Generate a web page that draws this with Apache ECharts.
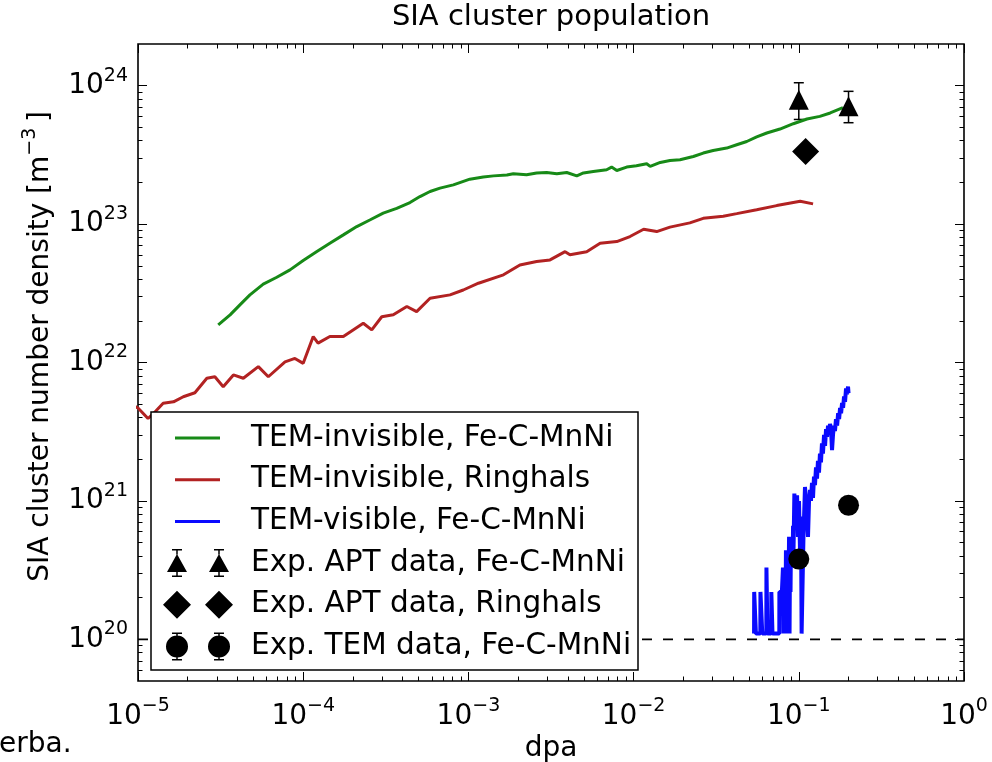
<!DOCTYPE html>
<html>
<head>
<meta charset="utf-8">
<script src="https://cdn.jsdelivr.net/npm/echarts@6/dist/echarts.min.js"></script>
<style>
  html, body { margin: 0; padding: 0; background: #fff; }
  #chart { width: 992px; height: 762px; }
</style>
</head>
<body>
<div id="chart"></div>
<script>
const FONT = 'DejaVu Sans';

// Axis ranges (dpa and number density, both on log scales)
const dpaRange = [1e-5, 1];
const densityRange = [5e19, 2e24];
const xTickExponents = [-5, -4, -3, -2, -1, 0];
const yTickExponents = [20, 21, 22, 23, 24];

// TEM-invisible clusters, Fe-C-MnNi (simulation)
const greenDpa = [3.06e-5, 3.61e-5, 4.14e-5, 4.76e-5, 5.73e-5, 6.92e-5, 8.32e-5, 1.00e-4, 1.21e-4, 1.45e-4,
  1.75e-4, 2.11e-4, 2.53e-4, 3.05e-4, 3.68e-4, 4.43e-4, 5.09e-4, 5.86e-4, 6.73e-4, 8.11e-4,
  1.02e-3, 1.23e-3, 1.42e-3, 1.71e-3, 1.87e-3, 2.25e-3, 2.59e-3, 2.98e-3, 3.43e-3, 3.94e-3,
  4.53e-3, 4.97e-3, 5.70e-3, 6.87e-3, 7.36e-3, 7.91e-3, 9.08e-3, 1.04e-2, 1.20e-2, 1.26e-2,
  1.45e-2, 1.66e-2, 1.91e-2, 2.30e-2, 2.64e-2, 3.03e-2, 3.66e-2, 4.21e-2, 4.84e-2, 5.56e-2,
  6.40e-2, 7.69e-2, 9.27e-2, 1.12e-1, 1.34e-1, 1.55e-1, 1.85e-1];
const greenDensity = [1.87e22, 2.21e22, 2.61e22, 3.08e22, 3.68e22, 4.13e22, 4.67e22, 5.45e22, 6.33e22, 7.28e22,
  8.36e22, 9.60e22, 1.07e23, 1.20e23, 1.30e23, 1.43e23, 1.58e23, 1.72e23, 1.82e23, 1.92e23,
  2.11e23, 2.19e23, 2.23e23, 2.26e23, 2.31e23, 2.27e23, 2.34e23, 2.36e23, 2.31e23, 2.36e23,
  2.23e23, 2.34e23, 2.40e23, 2.47e23, 2.58e23, 2.44e23, 2.58e23, 2.64e23, 2.73e23, 2.61e23,
  2.79e23, 2.88e23, 2.92e23, 3.08e23, 3.26e23, 3.40e23, 3.54e23, 3.74e23, 3.95e23, 4.26e23,
  4.55e23, 4.86e23, 5.31e23, 5.74e23, 6.00e23, 6.35e23, 6.93e23];

// TEM-invisible clusters, Ringhals (simulation)
const redDpa = [8.95e-6, 1.00e-5, 1.15e-5, 1.27e-5, 1.42e-5, 1.64e-5, 1.88e-5, 2.21e-5, 2.61e-5, 2.92e-5,
  3.28e-5, 3.78e-5, 4.34e-5, 5.35e-5, 6.15e-5, 7.76e-5, 8.91e-5, 1.00e-4, 1.15e-4, 1.23e-4,
  1.45e-4, 1.75e-4, 2.31e-4, 2.60e-4, 2.99e-4, 3.51e-4, 4.24e-4, 4.86e-4, 5.86e-4, 7.74e-4,
  9.31e-4, 1.15e-3, 1.63e-3, 2.05e-3, 2.59e-3, 3.12e-3, 3.85e-3, 4.12e-3, 5.20e-3, 6.27e-3,
  7.91e-3, 9.51e-3, 1.15e-2, 1.38e-2, 1.66e-2, 2.19e-2, 2.64e-2, 3.49e-2, 4.21e-2, 5.56e-2,
  7.35e-2, 1.02e-1, 1.22e-1];
const redDensity = [5.01e21, 4.69e21, 3.94e21, 4.41e21, 5.07e21, 5.20e21, 5.66e21, 6.05e21, 7.69e21, 7.89e21,
  6.68e21, 8.13e21, 7.69e21, 9.33e21, 7.89e21, 1.01e22, 1.07e22, 9.86e21, 1.54e22, 1.38e22,
  1.54e22, 1.54e22, 1.92e22, 1.72e22, 2.14e22, 2.21e22, 2.54e22, 2.33e22, 2.91e22, 3.08e22,
  3.34e22, 3.74e22, 4.30e22, 5.07e22, 5.36e22, 5.51e22, 6.32e22, 6.00e22, 6.32e22, 7.28e22,
  7.48e22, 8.13e22, 9.18e22, 8.83e22, 9.51e22, 1.02e23, 1.10e23, 1.14e23, 1.19e23, 1.27e23,
  1.36e23, 1.46e23, 1.40e23];

// TEM-visible clusters, Fe-C-MnNi (simulation, counts of single clusters)
const blueDpa = [
  0.0536, 0.0537, 0.0549, 0.0550, 0.0585, 0.0586, 0.0600, 0.0601, 0.0636, 0.0637,
  0.0645, 0.0646, 0.0681, 0.0682, 0.0692, 0.0693, 0.0762, 0.0763, 0.0790, 0.0802,
  0.0808, 0.0813, 0.0819, 0.0824, 0.0830, 0.0836, 0.0842, 0.0847, 0.0854, 0.0860,
  0.0866, 0.0873, 0.0879, 0.0885, 0.0891, 0.0897, 0.0903, 0.0910, 0.0916, 0.0923,
  0.0929, 0.0940, 0.0949, 0.0962, 0.0976, 0.0989, 0.1003, 0.1017, 0.1031, 0.1040,
  0.1060, 0.1067, 0.1090, 0.1106, 0.1121, 0.1137, 0.1153, 0.1169, 0.1185, 0.1202,
  0.1219, 0.1236, 0.1253, 0.1271, 0.1289, 0.1306, 0.1325, 0.1343, 0.1362, 0.1381,
  0.1400, 0.1422, 0.1442, 0.1462, 0.1483, 0.1503, 0.1524, 0.1545, 0.1567, 0.1589,
  0.1611, 0.1633, 0.1656, 0.1679, 0.1706, 0.1730, 0.1754, 0.1778, 0.1803, 0.1828,
  0.1854, 0.1879, 0.1905, 0.1932, 0.1959, 0.1986, 0.2000];
const blueDensity = [
  1.1e20, 2.2e20, 2.2e20, 1.1e20, 1.1e20, 2.2e20, 2.2e20, 1.1e20, 1.1e20, 3.3e20,
  3.3e20, 1.1e20, 1.1e20, 2.2e20, 2.2e20, 1.1e20, 1.1e20, 2.2e20, 2.2e20, 3.3e20,
  1.1e20, 3.3e20, 1.1e20, 3.3e20, 1.1e20, 4.4e20, 1.1e20, 4.4e20, 1.1e20, 4.4e20,
  2.2e20, 5.5e20, 1.1e20, 4.4e20, 2.2e20, 5.5e20, 3.3e20, 5.5e20, 3.3e20, 6.6e20,
  4.4e20, 1.13e21, 1.1e21, 6.6e20, 1.1e21, 5.5e20, 1.0e21, 4.4e20, 7.7e20, 1.1e20,
  1.1e20, 5.5e20, 1.26e21, 1.0e21, 7.7e20, 5.5e20, 9.9e20, 1.2e21, 1.0e21, 1.35e21,
  1.05e21, 1.5e21, 1.3e21, 1.75e21, 1.45e21, 1.95e21, 1.6e21, 2.2e21, 1.9e21, 2.6e21,
  2.2e21, 3.0e21, 2.5e21, 3.3e21, 2.9e21, 3.5e21, 3.1e21, 3.6e21, 3.3e21, 2.33e21,
  3.0e21, 3.5e21, 3.2e21, 3.9e21, 3.5e21, 4.3e21, 3.9e21, 4.7e21, 4.3e21, 5.1e21,
  4.7e21, 5.7e21, 5.2e21, 6.5e21, 5.9e21, 6.7e21, 6.0e21];

// Experimental data
const aptMnNiDpa = [0.1, 0.2];
const aptMnNiDensity = [7.9e23, 7.1e23];
const aptMnNiLow = [5.7e23, 5.4e23];
const aptMnNiHigh = [1.05e24, 9.1e23];
const aptRinghalsDpa = [0.11];
const aptRinghalsDensity = [3.35e23];
const temMnNiDpa = [0.1, 0.2];
const temMnNiDensity = [3.8e20, 9.3e20];

// Detection limit (one cluster in the simulation box)
const limitDpa = [1e-5, 1];
const limitDensity = [1e20, 1e20];

const L = Math.log10;
const pairs = (xs, ys) => xs.map((x, i) => [L(x), L(ys[i])]);

const xMin = L(dpaRange[0]), xMax = L(dpaRange[1]);
const yMin = L(densityRange[0]), yMax = L(densityRange[1]);

function minorTicks(lo, hi) {
  const out = [];
  for (let e = Math.floor(lo); e < Math.ceil(hi); e++) {
    for (let k = 2; k <= 9; k++) {
      const v = e + Math.log10(k);
      if (v > lo && v < hi) out.push(v);
    }
  }
  return out;
}
const xMinor = minorTicks(xMin, xMax);
const yMinor = minorTicks(yMin, yMax);

const supRich = {
  b: { fontSize: 28, fontFamily: FONT, color: '#000' },
  s: { fontSize: 19, fontFamily: FONT, color: '#000', padding: [0, 0, 20, 0] }
};
const powLabel = v => '{b|10}{s|' + String(Math.round(v)).replace('-', '\u2212') + '}';

function axis(kind, pos, grid, ticks, len, labels, extra) {
  const a = {
    type: 'value', gridIndex: grid, position: pos,
    min: kind === 'x' ? xMin : yMin, max: kind === 'x' ? xMax : yMax,
    axisLine: { show: false, onZero: false }, splitLine: { show: false },
    axisTick: { show: true, inside: true, length: len, customValues: ticks,
      lineStyle: { color: '#000', width: 1 } },
    axisLabel: labels ? {
      show: true, customValues: labels, formatter: powLabel, rich: supRich,
      fontSize: 28, fontFamily: FONT, color: '#000', margin: kind === 'x' ? 16 : 10
    } : { show: false }
  };
  return Object.assign(a, extra || {});
}

const xMajor = xTickExponents.slice();
const yMajor = yTickExponents.slice();

// Legend icons: two markers (or a line) laid out in an 83x30 box
const anchors = 'M0,0h0.01v0.01h-0.01Z M82.99,29.99h0.01v0.01h-0.01Z ';
function errBar(cx, top, bottom) {
  return 'M' + (cx - 5) + ',1H' + (cx + 5) + 'V2.5H' + (cx - 5) + 'Z ' +
    'M' + (cx - 0.75) + ',2.5H' + (cx + 0.75) + 'V' + top + 'H' + (cx - 0.75) + 'Z ' +
    'M' + (cx - 0.75) + ',' + bottom + 'H' + (cx + 0.75) + 'V27.5H' + (cx - 0.75) + 'Z ' +
    'M' + (cx - 5) + ',27.5H' + (cx + 5) + 'V29H' + (cx - 5) + 'Z ';
}
const lineIcon = 'path://' + anchors + 'M12,13.5H57V16.5H12Z';
const triIcon = 'path://' + anchors +
  'M14,6L24,24L4,24Z M56,6L66,24L46,24Z ' + errBar(14, 6.5, 24) + errBar(56, 6.5, 24);
const diaIcon = 'path://' + anchors + 'M14,1L28,15L14,29L0,15Z M56,1L70,15L56,29L42,15Z';
const cirIcon = 'path://' + anchors +
  'M3,15A11,11 0 1 1 25,15A11,11 0 1 1 3,15Z M45,15A11,11 0 1 1 67,15A11,11 0 1 1 45,15Z ' +
  errBar(14, 4.5, 25.5) + errBar(56, 4.5, 25.5);

const names = {
  green: 'TEM-invisible, Fe-C-MnNi',
  red: 'TEM-invisible, Ringhals',
  blue: 'TEM-visible, Fe-C-MnNi',
  tri: 'Exp. APT data, Fe-C-MnNi',
  dia: 'Exp. APT data, Ringhals',
  cir: 'Exp. TEM data, Fe-C-MnNi'
};

const gridRect = { left: 138, right: 28, top: 44, bottom: 81, outerBoundsMode: 'none', containLabel: false };

const option = {
  animation: false,
  backgroundColor: '#fff',
  title: {
    text: 'SIA cluster population', left: 551, top: 3, textAlign: 'center', padding: 0,
    textStyle: { fontFamily: FONT, fontSize: 29, fontWeight: 'normal', color: '#000' }
  },
  grid: [
    Object.assign({ show: true, borderColor: '#000', borderWidth: 1.6, backgroundColor: 'transparent' }, gridRect),
    Object.assign({ show: false }, gridRect)
  ],
  xAxis: [
    axis('x', 'bottom', 0, xMajor, 9, xMajor, {
      name: 'dpa', nameLocation: 'middle', nameGap: 54, nameMoveOverlap: false,
      nameTextStyle: { fontFamily: FONT, fontSize: 28, color: '#000' }
    }),
    axis('x', 'top', 0, xMajor, 9, null),
    axis('x', 'bottom', 1, xMinor, 4.5, null),
    axis('x', 'top', 1, xMinor, 4.5, null)
  ],
  yAxis: [
    axis('y', 'left', 0, yMajor, 9, yMajor, {
      name: 'SIA cluster number density [m{s|\u22123}\u2009]',
      nameLocation: 'middle', nameRotate: 90, nameGap: 78, nameMoveOverlap: false,
      nameTextStyle: { fontFamily: FONT, fontSize: 28, color: '#000', padding: [0, 0, 0, 32],
        rich: { s: { fontFamily: FONT, fontSize: 19, color: '#000', padding: [0, 0, 20, 0] } } }
    }),
    axis('y', 'right', 0, yMajor, 9, null),
    axis('y', 'left', 1, yMinor, 4.5, null),
    axis('y', 'right', 1, yMinor, 4.5, null)
  ],
  legend: {
    orient: 'vertical', left: 158, top: 418, itemWidth: 83, itemHeight: 30, itemGap: 11.7,
    selectedMode: false, z: 6,
    itemStyle: { borderWidth: 0 },
    textStyle: { fontFamily: FONT, fontSize: 29.5, color: '#000' },
    data: [
      { name: names.green, icon: lineIcon },
      { name: names.red, icon: lineIcon },
      { name: names.blue, icon: lineIcon },
      { name: names.tri, icon: triIcon },
      { name: names.dia, icon: diaIcon },
      { name: names.cir, icon: cirIcon }
    ]
  },
  graphic: [
    { type: 'rect', z: 5, shape: { x: 151, y: 412, width: 487, height: 258 },
      style: { fill: '#fff', stroke: '#000', lineWidth: 1.5 } },
    { type: 'text', left: -1, top: 731, z: 5,
      style: { text: 'erba.', fontFamily: FONT, fontSize: 28, fill: '#000' } }
  ],
  series: [
    { type: 'line', name: 'limit', data: pairs(limitDpa, limitDensity), symbol: 'none',
      lineStyle: { color: '#000', width: 1.8, type: [10, 11] }, z: 1, silent: true },
    { type: 'line', name: names.green, data: pairs(greenDpa, greenDensity), symbol: 'none', clip: true,
      color: '#178a17', lineStyle: { color: '#178a17', width: 3 } },
    { type: 'line', name: names.red, data: pairs(redDpa, redDensity), symbol: 'none', clip: true,
      color: '#b22222', lineStyle: { color: '#b22222', width: 3 } },
    { type: 'line', name: names.blue, data: pairs(blueDpa, blueDensity), symbol: 'none', clip: true,
      color: '#0a0aff', lineStyle: { color: '#0a0aff', width: 4 } },
    { type: 'custom', name: 'aptErr', z: 3,
      data: aptMnNiDpa.map((x, i) => [L(x), L(aptMnNiLow[i]), L(aptMnNiHigh[i])]),
      renderItem: (params, api) => {
        const lo = api.coord([api.value(0), api.value(1)]);
        const hi = api.coord([api.value(0), api.value(2)]);
        const st = { stroke: '#000', lineWidth: 1.5 };
        return { type: 'group', children: [
          { type: 'line', shape: { x1: lo[0], y1: lo[1], x2: hi[0], y2: hi[1] }, style: st },
          { type: 'line', shape: { x1: lo[0] - 5, y1: lo[1], x2: lo[0] + 5, y2: lo[1] }, style: st },
          { type: 'line', shape: { x1: hi[0] - 5, y1: hi[1], x2: hi[0] + 5, y2: hi[1] }, style: st }
        ] };
      } },
    { type: 'scatter', name: names.tri, data: pairs(aptMnNiDpa, aptMnNiDensity), symbol: 'triangle',
      symbolSize: [20, 20], itemStyle: { color: '#000', opacity: 1 }, z: 4 },
    { type: 'scatter', name: names.dia, data: pairs(aptRinghalsDpa, aptRinghalsDensity), symbol: 'diamond',
      symbolSize: 27, itemStyle: { color: '#000', opacity: 1 }, z: 4 },
    { type: 'scatter', name: names.cir, data: pairs(temMnNiDpa, temMnNiDensity), symbol: 'circle',
      symbolSize: 21, itemStyle: { color: '#000', opacity: 1 }, z: 4 }
  ]
};

const chart = echarts.init(document.getElementById('chart'), null, { renderer: 'canvas' });
chart.setOption(option);
</script>
</body>
</html>
